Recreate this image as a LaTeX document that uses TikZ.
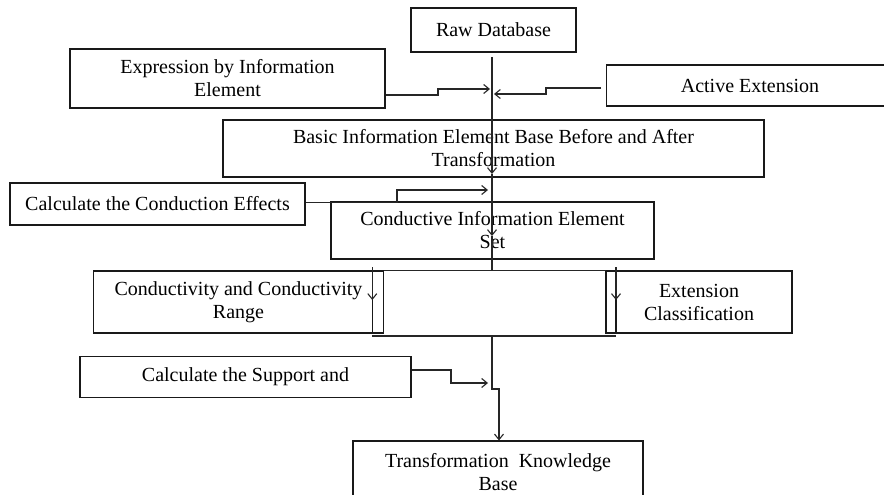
\documentclass[tikz,border=0pt]{standalone}
\usepackage{fontspec}
\setmainfont{Liberation Serif}
\usetikzlibrary{arrows.meta}
\begin{document}
\begin{tikzpicture}[x=1pt,y=-1pt,
  box/.style={draw=black!90,line width=1.1pt,inner sep=0pt,align=center,
    font=\fontsize{20}{23}\selectfont},
  thin/.style={draw=black!90,line width=1.1pt,inner sep=0pt},
  ln/.style={draw=black!85,line width=1.1pt},
  arr/.style={ln,-{Straight Barb[length=5.5pt,width=9pt]}}]
\useasboundingbox (0,0) rectangle (884,495);
\clip (0,0) rectangle (884,495);
\fill[white] (0,0) rectangle (884,495);
% boxes
\node[box,minimum width=165,minimum height=44] (raw) at (493.5,30) {Raw Database};
\node[box,minimum width=315,minimum height=59] (expr) at (227.5,78.5) {Expression by Information\\Element};
\node[box,minimum width=287,minimum height=41] (active) at (750,85.5) {Active Extension};
\node[box,minimum width=541,minimum height=57] (basic) at (493.5,148.5) {Basic Information Element Base Before and After\\Transformation};
\node[box,minimum width=295,minimum height=42] (calc1) at (157.5,204) {Calculate the Conduction Effects};
\node[box,minimum width=323,minimum height=57] (cond) at (492.5,230.5) {Conductive Information Element\\Set};
\node[box,minimum width=290,minimum height=62] (cty) at (238.5,302) {Conductivity and Conductivity\\Range};
\node[box,minimum width=186,minimum height=62] (extc) at (699,302) {Extension\\Classification};
\node[thin,minimum width=11.2,minimum height=62] (nl) at (377.9,302) {};
\node[thin,minimum width=9.3,minimum height=62] (nr) at (611.35,302) {};
\node[box,minimum width=331,minimum height=41] (calc2) at (245.5,377) {Calculate the Support and};
\node[box,minimum width=290,minimum height=62] (trans) at (498,472) {Transformation\hspace{0.25em} Knowledge\\Base};
% coordinates
\coordinate (m0) at (492,57);
\coordinate (m1) at (492,174);
\coordinate (m2) at (492,236);
\coordinate (m3) at (492,271);
\coordinate (bm) at (492,336);
\coordinate (bl) at (372.3,336);
\coordinate (br) at (616,336);
\coordinate (la0) at (372.3,267);
\coordinate (la1) at (372.3,300);
\coordinate (ra0) at (616,267);
\coordinate (ra1) at (616,300);
\coordinate (j1) at (492,389);
\coordinate (j2) at (499,389);
\coordinate (as) at (601,88);
% main line
\draw[arr] (m0) -- (m1);
\draw[arr] (m1) -- (m2);
\draw[ln] (m2) -- (m3);
\draw[ln] (nl.north east) -- (nr.north west);
\draw[arr] (la0) -- (la1);
\draw[arr] (ra0) -- (ra1);
\draw[ln] (bl) -- (br);
\draw[arr] (bm) -- (j1) -- (j2) -- (trans.north -| j2);
% side inputs
\draw[arr] (expr.east |- 0,95) -- (438,95) -- (438,89) -- (490,89);
\draw[arr] (as) -- (546,88) -- (546,94) -- (494,94);
\draw[arr] (calc1.east |- 0,202.5) -- (397,202.5) -- (397,190) -- (488,190);
\draw[arr] (calc2.east |- 0,370) -- (451,370) -- (451,383) -- (488,383);
\end{tikzpicture}
\end{document}
